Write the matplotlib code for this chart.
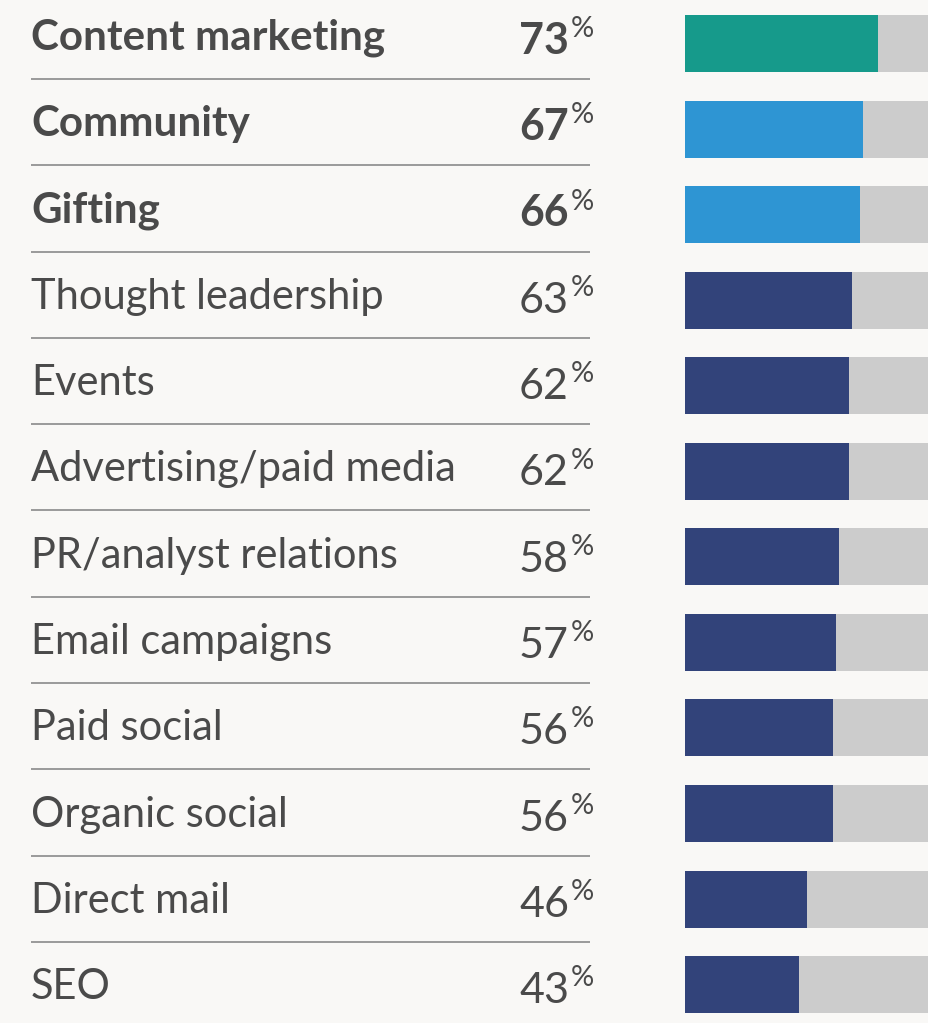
import matplotlib
matplotlib.use("Agg")
import matplotlib.pyplot as plt

# data
channels = ["Content marketing", "Community", "Gifting", "Thought leadership",
            "Events", "Advertising/paid media", "PR/analyst relations",
            "Email campaigns", "Paid social", "Organic social", "Direct mail", "SEO"]
shares = [73, 67, 66, 63, 62, 62, 58, 57, 56, 56, 46, 43]
bold_rows = [True, True, True] + [False] * 9
bar_colors = ["#169a8b", "#2e95d3", "#2e95d3"] + ["#32437a"] * 9

bg = "#f9f8f6"
text_color = "#4a4a4a"
plt.rcParams["font.family"] = ["Lato", "DejaVu Sans"]

fig = plt.figure(figsize=(9.29, 10.23), dpi=100, facecolor=bg)

# text layer: x in pixels, y in rows (row i baseline at i)
ax_t = fig.add_axes([0, 0, 1, 1])
ax_t.set_xlim(0, 929)
ax_t.set_ylim(11.275, -0.579)
ax_t.axis("off")
ax_t.patch.set_alpha(0)

for i, (name, val, b) in enumerate(zip(channels, shares, bold_rows)):
    w = "bold" if b else "normal"
    ax_t.text(31, i, name, fontsize=30.3 if b else 30, fontweight=w, color=text_color,
              ha="left", va="baseline")
    ax_t.text(569, i + 0.045, str(val), fontsize=31, fontweight=w, color=text_color,
              ha="right", va="baseline")
    ax_t.text(571, i - 0.15, "%", fontsize=21, color=text_color,
              ha="left", va="baseline")
    if i < len(channels) - 1:
        ax_t.plot([31, 590], [i + 0.336, i + 0.336], color="#8a8a8a", lw=1.2,
                  solid_capstyle="butt")

# bar layer
ax_b = fig.add_axes([685 / 929, 0, 265 / 929, 1])
ax_b.set_xlim(0, 100)
ax_b.set_ylim(11.449, -0.508)
ax_b.axis("off")
ax_b.patch.set_alpha(0)
rows = list(range(len(channels)))
ax_b.barh(rows, [100] * len(rows), height=0.666, color="#cccccc", linewidth=0)
ax_b.barh(rows, shares, height=0.666, color=bar_colors, linewidth=0)

fig.savefig("out.png", dpi=100, facecolor=bg)
